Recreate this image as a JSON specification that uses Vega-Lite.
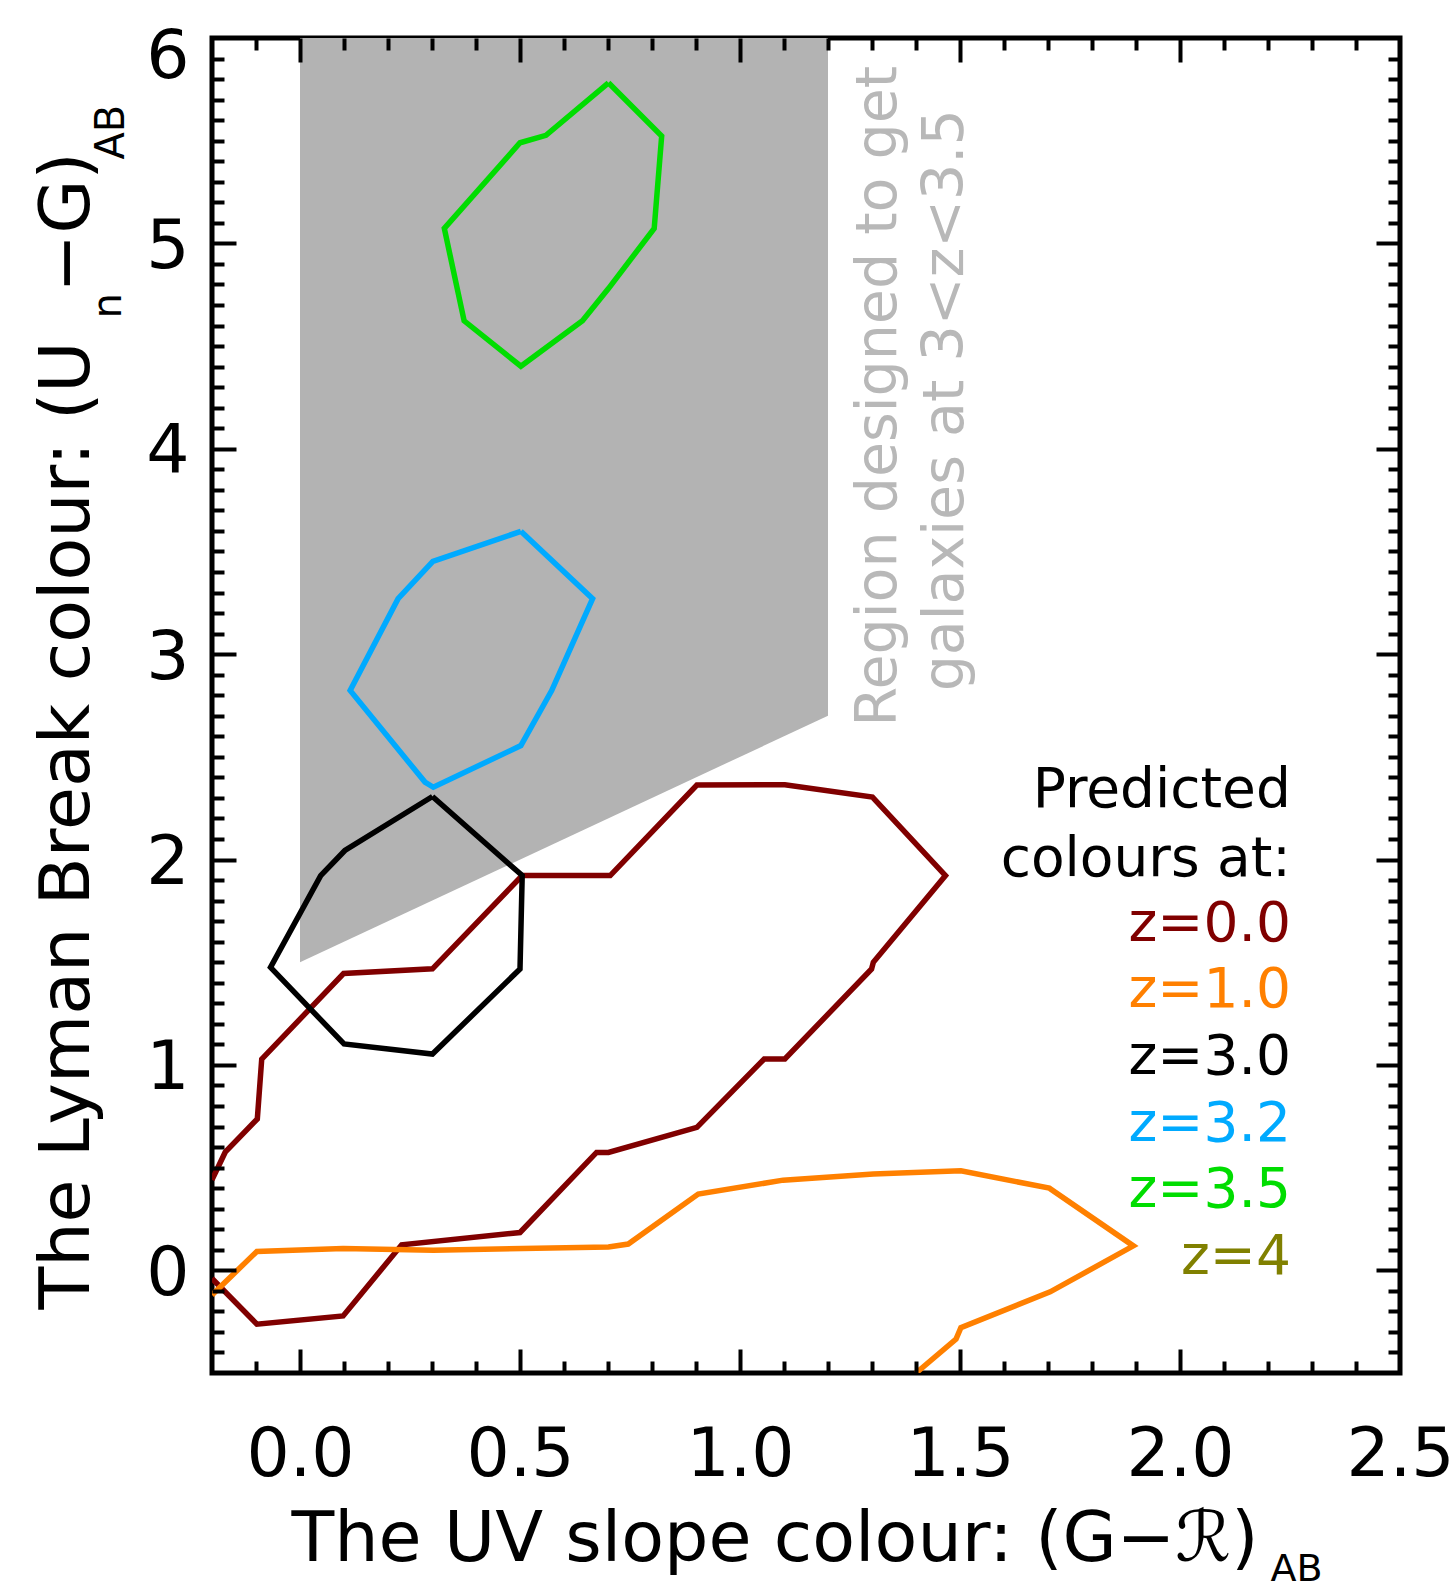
{
  "$schema": "https://vega.github.io/schema/vega-lite/v6.json",
  "width": 1188,
  "height": 1335,
  "autosize": {"type": "none"},
  "padding": {"left": 212, "top": 38, "right": 54, "bottom": 218},
  "background": "white",
  "config": {
    "view": {"stroke": "black", "strokeWidth": 5},
    "axis": {"grid": false, "domain": false, "tickColor": "black", "tickWidth": 4, "labelFont": "DejaVu Sans", "titleFont": "DejaVu Sans", "labelColor": "black", "titleColor": "black", "titleFontWeight": "normal", "labelOverlap": false, "labelBound": false},
    "text": {"font": "DejaVu Sans"}
  },
  "datasets": {
    "region": [
      {"rx": 0, "ry": 6, "ry2": 1.5},
      {"rx": 1.2, "ry": 6, "ry2": 2.7}
    ],
    "contours": [
      {"series": "z=0.0", "order": 1, "gx": -0.2, "gy": 0.44},
      {"series": "z=0.0", "order": 2, "gx": -0.17, "gy": 0.575},
      {"series": "z=0.0", "order": 3, "gx": -0.097, "gy": 0.737},
      {"series": "z=0.0", "order": 4, "gx": -0.087, "gy": 1.028},
      {"series": "z=0.0", "order": 5, "gx": 0.099, "gy": 1.445},
      {"series": "z=0.0", "order": 6, "gx": 0.301, "gy": 1.468},
      {"series": "z=0.0", "order": 7, "gx": 0.505, "gy": 1.922},
      {"series": "z=0.0", "order": 8, "gx": 0.705, "gy": 1.922},
      {"series": "z=0.0", "order": 9, "gx": 0.902, "gy": 2.363},
      {"series": "z=0.0", "order": 10, "gx": 1.102, "gy": 2.364},
      {"series": "z=0.0", "order": 11, "gx": 1.301, "gy": 2.304},
      {"series": "z=0.0", "order": 12, "gx": 1.467, "gy": 1.922},
      {"series": "z=0.0", "order": 13, "gx": 1.303, "gy": 1.5},
      {"series": "z=0.0", "order": 14, "gx": 1.299, "gy": 1.467},
      {"series": "z=0.0", "order": 15, "gx": 1.102, "gy": 1.029},
      {"series": "z=0.0", "order": 16, "gx": 1.055, "gy": 1.029},
      {"series": "z=0.0", "order": 17, "gx": 0.902, "gy": 0.696},
      {"series": "z=0.0", "order": 18, "gx": 0.701, "gy": 0.574},
      {"series": "z=0.0", "order": 19, "gx": 0.674, "gy": 0.574},
      {"series": "z=0.0", "order": 20, "gx": 0.5, "gy": 0.184},
      {"series": "z=0.0", "order": 21, "gx": 0.231, "gy": 0.124},
      {"series": "z=0.0", "order": 22, "gx": 0.098, "gy": -0.222},
      {"series": "z=0.0", "order": 23, "gx": -0.098, "gy": -0.262},
      {"series": "z=0.0", "order": 24, "gx": -0.2, "gy": -0.04},
      {"series": "z=1.0", "order": 1, "gx": -0.2, "gy": -0.12},
      {"series": "z=1.0", "order": 2, "gx": -0.098, "gy": 0.092},
      {"series": "z=1.0", "order": 3, "gx": 0.098, "gy": 0.106},
      {"series": "z=1.0", "order": 4, "gx": 0.303, "gy": 0.098},
      {"series": "z=1.0", "order": 5, "gx": 0.701, "gy": 0.114},
      {"series": "z=1.0", "order": 6, "gx": 0.746, "gy": 0.128},
      {"series": "z=1.0", "order": 7, "gx": 0.905, "gy": 0.371},
      {"series": "z=1.0", "order": 8, "gx": 1.098, "gy": 0.439},
      {"series": "z=1.0", "order": 9, "gx": 1.303, "gy": 0.469},
      {"series": "z=1.0", "order": 10, "gx": 1.502, "gy": 0.485},
      {"series": "z=1.0", "order": 11, "gx": 1.703, "gy": 0.4},
      {"series": "z=1.0", "order": 12, "gx": 1.894, "gy": 0.119},
      {"series": "z=1.0", "order": 13, "gx": 1.705, "gy": -0.105},
      {"series": "z=1.0", "order": 14, "gx": 1.502, "gy": -0.279},
      {"series": "z=1.0", "order": 15, "gx": 1.491, "gy": -0.335},
      {"series": "z=1.0", "order": 16, "gx": 1.4, "gy": -0.5},
      {"series": "z=3.0", "order": 1, "gx": 0.301, "gy": 2.307},
      {"series": "z=3.0", "order": 2, "gx": 0.505, "gy": 1.922},
      {"series": "z=3.0", "order": 3, "gx": 0.5, "gy": 1.467},
      {"series": "z=3.0", "order": 4, "gx": 0.301, "gy": 1.053},
      {"series": "z=3.0", "order": 5, "gx": 0.1, "gy": 1.102},
      {"series": "z=3.0", "order": 6, "gx": -0.067, "gy": 1.475},
      {"series": "z=3.0", "order": 7, "gx": 0.047, "gy": 1.922},
      {"series": "z=3.0", "order": 8, "gx": 0.102, "gy": 2.044},
      {"series": "z=3.0", "order": 9, "gx": 0.301, "gy": 2.307},
      {"series": "z=3.2", "order": 1, "gx": 0.502, "gy": 3.598},
      {"series": "z=3.2", "order": 2, "gx": 0.665, "gy": 3.27},
      {"series": "z=3.2", "order": 3, "gx": 0.572, "gy": 2.823},
      {"series": "z=3.2", "order": 4, "gx": 0.502, "gy": 2.555},
      {"series": "z=3.2", "order": 5, "gx": 0.303, "gy": 2.352},
      {"series": "z=3.2", "order": 6, "gx": 0.284, "gy": 2.377},
      {"series": "z=3.2", "order": 7, "gx": 0.114, "gy": 2.823},
      {"series": "z=3.2", "order": 8, "gx": 0.223, "gy": 3.27},
      {"series": "z=3.2", "order": 9, "gx": 0.302, "gy": 3.452},
      {"series": "z=3.2", "order": 10, "gx": 0.502, "gy": 3.598},
      {"series": "z=3.5", "order": 1, "gx": 0.701, "gy": 5.782},
      {"series": "z=3.5", "order": 2, "gx": 0.822, "gy": 5.523},
      {"series": "z=3.5", "order": 3, "gx": 0.805, "gy": 5.073},
      {"series": "z=3.5", "order": 4, "gx": 0.701, "gy": 4.78},
      {"series": "z=3.5", "order": 5, "gx": 0.642, "gy": 4.623},
      {"series": "z=3.5", "order": 6, "gx": 0.502, "gy": 4.402},
      {"series": "z=3.5", "order": 7, "gx": 0.373, "gy": 4.623},
      {"series": "z=3.5", "order": 8, "gx": 0.328, "gy": 5.073},
      {"series": "z=3.5", "order": 9, "gx": 0.5, "gy": 5.49},
      {"series": "z=3.5", "order": 10, "gx": 0.559, "gy": 5.526},
      {"series": "z=3.5", "order": 11, "gx": 0.701, "gy": 5.782}
    ]
  },
  "resolve": {"axis": {"x": "independent", "y": "independent"}},
  "layer": [
    {
      "data": {"name": "region"},
      "mark": {"type": "area", "color": "#b3b3b3", "clip": true},
      "encoding": {
        "x": {"field": "rx", "type": "quantitative", "scale": {"domain": [-0.2, 2.5], "nice": false, "zero": false},
          "axis": {"orient": "bottom", "values": [0, 0.5, 1, 1.5, 2, 2.5], "format": ".1f", "ticks": false, "tickSize": 0, "labelPadding": 48, "labelFontSize": 68, "labelFlush": false, "domain": false, "zindex": 1,
            "title": "The UV slope colour: (G−ℛ)", "titleFontSize": 70, "titleX": 79, "titleY": 187, "titleAlign": "left", "titleBaseline": "alphabetic", "titleAngle": 0}},
        "y": {"field": "ry", "type": "quantitative", "scale": {"domain": [-0.5, 6], "nice": false, "zero": false},
          "axis": {"orient": "left", "values": [0, 1, 2, 3, 4, 5], "format": "d", "ticks": false, "tickSize": 0, "labelPadding": 23, "labelFontSize": 68, "labelFlush": false, "labelOffset": 4, "domain": false, "zindex": 1,
            "title": "The Lyman Break colour: (U", "titleFontSize": 70, "titleX": -124, "titleY": 1271, "titleAngle": 270, "titleAlign": "left", "titleBaseline": "alphabetic"}},
        "y2": {"field": "ry2"}
      }
    },
    {
      "data": {"name": "contours"},
      "transform": [{"filter": "datum.series === 'z=0.0'"}],
      "mark": {"type": "line", "strokeWidth": 5.5, "clip": true},
      "encoding": {
        "x": {"field": "gx", "type": "quantitative", "scale": {"domain": [-0.2, 2.5], "nice": false, "zero": false},
          "axis": {"orient": "bottom", "offset": -24, "values": [0, 0.5, 1, 1.5, 2], "tickSize": 24, "labels": false, "domain": false, "zindex": 1,
            "title": "AB", "titleFontSize": 38, "titleX": 1058, "titleY": 231, "titleAlign": "left", "titleBaseline": "alphabetic", "titleAngle": 0}},
        "y": {"field": "gy", "type": "quantitative", "scale": {"domain": [-0.5, 6], "nice": false, "zero": false},
          "axis": {"orient": "left", "offset": -24, "values": [0, 1, 2, 3, 4, 5], "tickSize": 24, "labels": false, "domain": false, "zindex": 1,
            "title": "n", "titleFontSize": 40, "titleX": -116, "titleY": 280, "titleAngle": 270, "titleAlign": "left", "titleBaseline": "alphabetic"}},
        "order": {"field": "order", "type": "quantitative"},
        "color": {"field": "series", "type": "nominal", "scale": {"domain": ["z=0.0", "z=1.0", "z=3.0", "z=3.2", "z=3.5"], "range": ["#800000", "#ff8000", "#000000", "#00aaff", "#00dd00"]}, "legend": null}
      }
    },
    {
      "data": {"name": "contours"},
      "transform": [{"filter": "datum.series === 'z=1.0'"}],
      "mark": {"type": "line", "strokeWidth": 5.5, "clip": true},
      "encoding": {
        "x": {"field": "gx", "type": "quantitative", "scale": {"domain": [-0.2, 2.5], "nice": false, "zero": false},
          "axis": {"orient": "bottom", "offset": -12, "values": [-0.1, 0.1, 0.2, 0.3, 0.4, 0.6, 0.7, 0.8, 0.9, 1.1, 1.2, 1.3, 1.4, 1.6, 1.7, 1.8, 1.9, 2.1, 2.2, 2.3, 2.4], "tickSize": 12, "labels": false, "domain": false, "zindex": 1, "title": null}},
        "y": {"field": "gy", "type": "quantitative", "scale": {"domain": [-0.5, 6], "nice": false, "zero": false},
          "axis": {"orient": "left", "offset": -12, "values": [-0.4, -0.3, -0.2, -0.1, 0.1, 0.2, 0.3, 0.4, 0.5, 0.6, 0.7, 0.8, 0.9, 1.1, 1.2, 1.3, 1.4, 1.5, 1.6, 1.7, 1.8, 1.9, 2.1, 2.2, 2.3, 2.4, 2.5, 2.6, 2.7, 2.8, 2.9, 3.1, 3.2, 3.3, 3.4, 3.5, 3.6, 3.7, 3.8, 3.9, 4.1, 4.2, 4.3, 4.4, 4.5, 4.6, 4.7, 4.8, 4.9, 5.1, 5.2, 5.3, 5.4, 5.5, 5.6, 5.7, 5.8, 5.9], "tickSize": 12, "labels": false, "domain": false, "zindex": 1,
            "title": "−G)", "titleFontSize": 70, "titleX": -136, "titleY": 254, "titleAngle": 270, "titleAlign": "left", "titleBaseline": "alphabetic"}},
        "order": {"field": "order", "type": "quantitative"},
        "color": {"field": "series", "type": "nominal", "scale": {"domain": ["z=0.0", "z=1.0", "z=3.0", "z=3.2", "z=3.5"], "range": ["#800000", "#ff8000", "#000000", "#00aaff", "#00dd00"]}, "legend": null}
      }
    },
    {
      "data": {"name": "contours"},
      "transform": [{"filter": "datum.series === 'z=3.0'"}],
      "mark": {"type": "line", "strokeWidth": 5.5, "clip": true},
      "encoding": {
        "x": {"field": "gx", "type": "quantitative", "scale": {"domain": [-0.2, 2.5], "nice": false, "zero": false},
          "axis": {"orient": "top", "offset": -24, "values": [0, 0.5, 1, 1.5, 2], "tickSize": 24, "labels": false, "domain": false, "zindex": 1, "title": null}},
        "y": {"field": "gy", "type": "quantitative", "scale": {"domain": [-0.5, 6], "nice": false, "zero": false},
          "axis": {"orient": "right", "offset": -24, "values": [0, 1, 2, 3, 4, 5], "tickSize": 24, "labels": false, "domain": false, "zindex": 1,
            "title": "AB", "titleFontSize": 40, "titleX": -1253, "titleY": 121, "titleAngle": 270, "titleAlign": "left", "titleBaseline": "alphabetic"}},
        "order": {"field": "order", "type": "quantitative"},
        "color": {"field": "series", "type": "nominal", "scale": {"domain": ["z=0.0", "z=1.0", "z=3.0", "z=3.2", "z=3.5"], "range": ["#800000", "#ff8000", "#000000", "#00aaff", "#00dd00"]}, "legend": null}
      }
    },
    {
      "data": {"name": "contours"},
      "transform": [{"filter": "datum.series === 'z=3.2'"}],
      "mark": {"type": "line", "strokeWidth": 5.5, "clip": true},
      "encoding": {
        "x": {"field": "gx", "type": "quantitative", "scale": {"domain": [-0.2, 2.5], "nice": false, "zero": false},
          "axis": {"orient": "top", "offset": -12, "values": [-0.1, 0.1, 0.2, 0.3, 0.4, 0.6, 0.7, 0.8, 0.9, 1.1, 1.2, 1.3, 1.4, 1.6, 1.7, 1.8, 1.9, 2.1, 2.2, 2.3, 2.4], "tickSize": 12, "labels": false, "domain": false, "zindex": 1, "title": null}},
        "y": {"field": "gy", "type": "quantitative", "scale": {"domain": [-0.5, 6], "nice": false, "zero": false},
          "axis": {"orient": "right", "offset": -12, "values": [-0.4, -0.3, -0.2, -0.1, 0.1, 0.2, 0.3, 0.4, 0.5, 0.6, 0.7, 0.8, 0.9, 1.1, 1.2, 1.3, 1.4, 1.5, 1.6, 1.7, 1.8, 1.9, 2.1, 2.2, 2.3, 2.4, 2.5, 2.6, 2.7, 2.8, 2.9, 3.1, 3.2, 3.3, 3.4, 3.5, 3.6, 3.7, 3.8, 3.9, 4.1, 4.2, 4.3, 4.4, 4.5, 4.6, 4.7, 4.8, 4.9, 5.1, 5.2, 5.3, 5.4, 5.5, 5.6, 5.7, 5.8, 5.9], "tickSize": 12, "labels": false, "domain": false, "zindex": 1, "title": null}},
        "order": {"field": "order", "type": "quantitative"},
        "color": {"field": "series", "type": "nominal", "scale": {"domain": ["z=0.0", "z=1.0", "z=3.0", "z=3.2", "z=3.5"], "range": ["#800000", "#ff8000", "#000000", "#00aaff", "#00dd00"]}, "legend": null}
      }
    },
    {
      "data": {"name": "contours"},
      "transform": [{"filter": "datum.series === 'z=3.5'"}],
      "mark": {"type": "line", "strokeWidth": 5.5, "clip": true},
      "encoding": {
        "x": {"field": "gx", "type": "quantitative", "scale": {"domain": [-0.2, 2.5], "nice": false, "zero": false}, "axis": null},
        "y": {"field": "gy", "type": "quantitative", "scale": {"domain": [-0.5, 6], "nice": false, "zero": false},
          "axis": {"orient": "left", "values": [6], "format": "d", "ticks": false, "tickSize": 0, "labelPadding": 23, "labelFontSize": 68, "labelFlush": false, "labelOffset": 19, "domain": false, "zindex": 1, "title": null}},
        "order": {"field": "order", "type": "quantitative"},
        "color": {"field": "series", "type": "nominal", "scale": {"domain": ["z=0.0", "z=1.0", "z=3.0", "z=3.2", "z=3.5"], "range": ["#800000", "#ff8000", "#000000", "#00aaff", "#00dd00"]}, "legend": null}
      }
    },
    {
      "data": {"values": [{}]},
      "mark": {"type": "text", "text": "Region designed to get", "color": "#b8b8b8", "fontSize": 57, "angle": 270, "align": "center", "baseline": "middle"},
      "encoding": {"x": {"datum": 1.316, "type": "quantitative", "axis": null}, "y": {"datum": 4.256, "type": "quantitative", "axis": null}}
    },
    {
      "data": {"values": [{}]},
      "mark": {"type": "text", "text": "galaxies at 3<z<3.5", "color": "#b8b8b8", "fontSize": 57, "angle": 270, "align": "center", "baseline": "middle"},
      "encoding": {"x": {"datum": 1.468, "type": "quantitative", "axis": null}, "y": {"datum": 4.236, "type": "quantitative", "axis": null}}
    },
    {
      "data": {"values": [{}]},
      "mark": {"type": "text", "text": "Predicted", "color": "#000000", "fontSize": 55, "align": "right", "baseline": "middle"},
      "encoding": {"x": {"datum": 2.252, "type": "quantitative", "axis": null}, "y": {"datum": 2.339, "type": "quantitative", "axis": null}}
    },
    {
      "data": {"values": [{}]},
      "mark": {"type": "text", "text": "colours at:", "color": "#000000", "fontSize": 55, "align": "right", "baseline": "middle"},
      "encoding": {"x": {"datum": 2.252, "type": "quantitative", "axis": null}, "y": {"datum": 2.003, "type": "quantitative", "axis": null}}
    },
    {
      "data": {"values": [{}]},
      "mark": {"type": "text", "text": "z=0.0", "color": "#800000", "fontSize": 55, "align": "right", "baseline": "middle"},
      "encoding": {"x": {"datum": 2.252, "type": "quantitative", "axis": null}, "y": {"datum": 1.686, "type": "quantitative", "axis": null}}
    },
    {
      "data": {"values": [{}]},
      "mark": {"type": "text", "text": "z=1.0", "color": "#ff8000", "fontSize": 55, "align": "right", "baseline": "middle"},
      "encoding": {"x": {"datum": 2.252, "type": "quantitative", "axis": null}, "y": {"datum": 1.364, "type": "quantitative", "axis": null}}
    },
    {
      "data": {"values": [{}]},
      "mark": {"type": "text", "text": "z=3.0", "color": "#000000", "fontSize": 55, "align": "right", "baseline": "middle"},
      "encoding": {"x": {"datum": 2.252, "type": "quantitative", "axis": null}, "y": {"datum": 1.038, "type": "quantitative", "axis": null}}
    },
    {
      "data": {"values": [{}]},
      "mark": {"type": "text", "text": "z=3.2", "color": "#00aaff", "fontSize": 55, "align": "right", "baseline": "middle"},
      "encoding": {"x": {"datum": 2.252, "type": "quantitative", "axis": null}, "y": {"datum": 0.712, "type": "quantitative", "axis": null}}
    },
    {
      "data": {"values": [{}]},
      "mark": {"type": "text", "text": "z=3.5", "color": "#00dd00", "fontSize": 55, "align": "right", "baseline": "middle"},
      "encoding": {"x": {"datum": 2.252, "type": "quantitative", "axis": null}, "y": {"datum": 0.39, "type": "quantitative", "axis": null}}
    },
    {
      "data": {"values": [{}]},
      "mark": {"type": "text", "text": "z=4", "color": "#808000", "fontSize": 55, "align": "right", "baseline": "middle"},
      "encoding": {"x": {"datum": 2.252, "type": "quantitative", "axis": null}, "y": {"datum": 0.065, "type": "quantitative", "axis": null}}
    }
  ]
}
